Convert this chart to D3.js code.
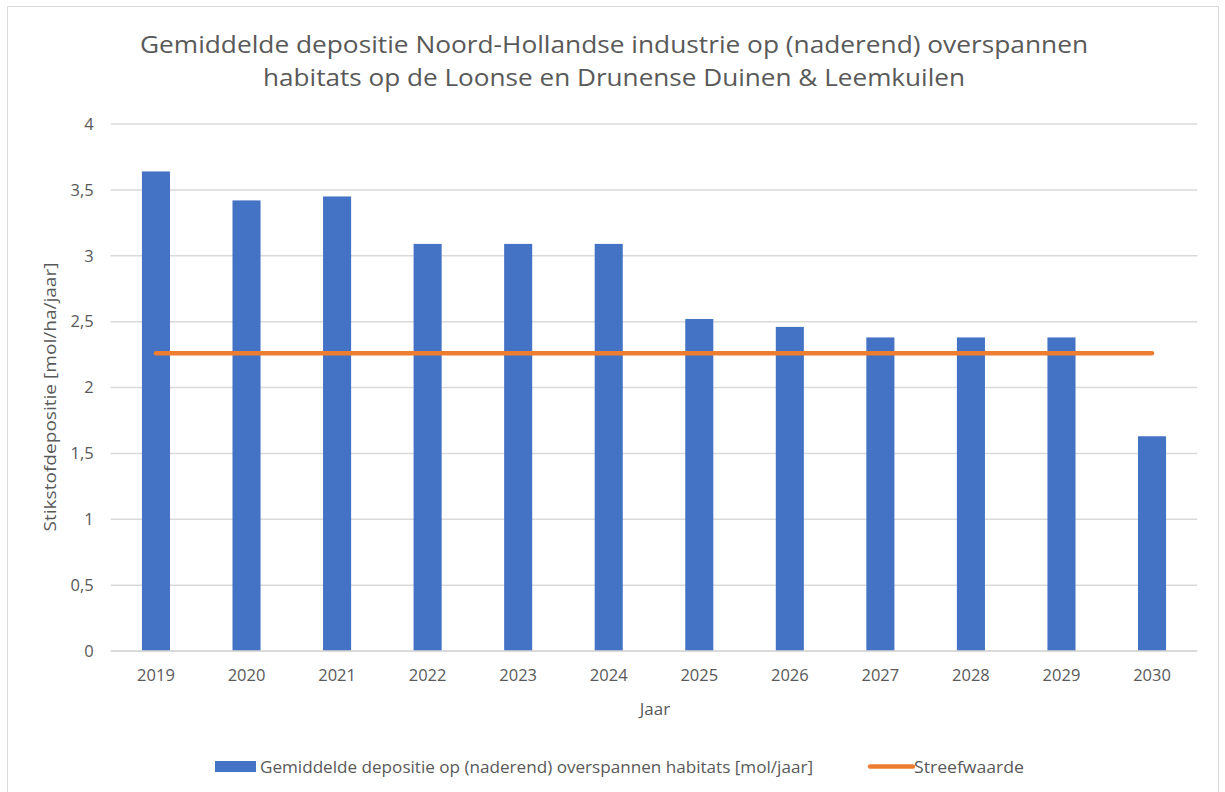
<!DOCTYPE html>
<html>
<head>
<meta charset="utf-8">
<script src="https://cdn.jsdelivr.net/npm/d3@7"></script>
<style>
  body { margin: 0; background: #fff; }
  text { font-family: "Open Sans", sans-serif; fill: #595959; }
</style>
</head>
<body>
<div id="chart"></div>
<script>
// waarden
var years = ["2019", "2020", "2021", "2022", "2023", "2024", "2025", "2026", "2027", "2028", "2029", "2030"];
var depositie = [3.64, 3.42, 3.45, 3.09, 3.09, 3.09, 2.52, 2.46, 2.38, 2.38, 2.38, 1.63];
var streefwaarde = [2.26, 2.26, 2.26, 2.26, 2.26, 2.26, 2.26, 2.26, 2.26, 2.26, 2.26, 2.26];
var yTicks = [0, 0.5, 1, 1.5, 2, 2.5, 3, 3.5, 4];

var width = 1225,
    height = 792,
    plot = { left: 110.7, right: 1197.3, top: 124, bottom: 651 };

var svg = d3.select("#chart").append("svg")
    .attr("width", width)
    .attr("height", height);

// rand om de grafiek
svg.append("rect")
    .attr("x", 7.5).attr("y", 6.5)
    .attr("width", 1211).attr("height", 800)
    .attr("fill", "none")
    .attr("stroke", "#d9d9d9");

var x = d3.scaleBand()
    .domain(years)
    .range([plot.left, plot.right])
    .paddingInner(0.69)
    .paddingOuter(0.345);

var y = d3.scaleLinear()
    .domain([0, 4])
    .range([plot.bottom, plot.top]);

var fmt = function(d) { return String(d).replace(".", ","); };

// gridlijnen
svg.append("g")
  .selectAll("line")
  .data(yTicks)
  .enter().append("line")
    .attr("x1", plot.left).attr("x2", plot.right)
    .attr("y1", function(d) { return y(d); })
    .attr("y2", function(d) { return y(d); })
    .attr("stroke", "#d9d9d9")
    .attr("stroke-width", 1.5);

var yAxis = svg.append("g")
    .attr("transform", "translate(" + plot.left + ",0)")
    .call(d3.axisLeft(y).tickValues(yTicks).tickFormat(fmt).tickSize(0).tickPadding(17));
yAxis.select(".domain").remove();
yAxis.selectAll("text").style("font-size", "16.5px").attr("fill", "#595959");

var xAxis = svg.append("g")
    .attr("transform", "translate(0," + plot.bottom + ")")
    .call(d3.axisBottom(x).tickSize(0).tickPadding(18));
xAxis.select(".domain").remove();
xAxis.selectAll("text").style("font-size", "16.5px").attr("fill", "#595959");

// balken
svg.append("g")
  .selectAll("rect")
  .data(depositie)
  .enter().append("rect")
    .attr("x", function(d, i) { return x(years[i]); })
    .attr("y", function(d) { return y(d); })
    .attr("width", x.bandwidth())
    .attr("height", function(d) { return y(0) - y(d); })
    .attr("fill", "#4472c4");

// as-lijn onder
svg.append("line")
    .attr("x1", plot.left).attr("x2", plot.right)
    .attr("y1", y(0)).attr("y2", y(0))
    .attr("stroke", "#d9d9d9").attr("stroke-width", 1.5);

// streefwaarde
var line = d3.line()
    .x(function(d, i) { return x(years[i]) + x.bandwidth() / 2; })
    .y(function(d) { return y(d); });

svg.append("path")
    .datum(streefwaarde)
    .attr("d", line)
    .attr("fill", "none")
    .attr("stroke", "#ed7d31")
    .attr("stroke-width", 4.5)
    .attr("stroke-linecap", "round");

// titel
svg.append("text")
    .attr("x", 614).attr("y", 53)
    .attr("text-anchor", "middle")
    .attr("textLength", 948).attr("lengthAdjust", "spacingAndGlyphs")
    .style("font-size", "23px")
    .text("Gemiddelde depositie Noord-Hollandse industrie op (naderend) overspannen");
svg.append("text")
    .attr("x", 614).attr("y", 86)
    .attr("text-anchor", "middle")
    .attr("textLength", 702).attr("lengthAdjust", "spacingAndGlyphs")
    .style("font-size", "23px")
    .text("habitats op de Loonse en Drunense Duinen & Leemkuilen");

// astitels
svg.append("text")
    .attr("transform", "translate(56,397) rotate(-90)")
    .attr("text-anchor", "middle")
    .attr("textLength", 269).attr("lengthAdjust", "spacingAndGlyphs")
    .style("font-size", "17px")
    .text("Stikstofdepositie [mol/ha/jaar]");
svg.append("text")
    .attr("x", 655).attr("y", 715)
    .attr("text-anchor", "middle")
    .style("font-size", "17px")
    .text("Jaar");

// legenda
svg.append("rect")
    .attr("x", 215).attr("y", 761)
    .attr("width", 41).attr("height", 11)
    .attr("fill", "#4472c4");
svg.append("text")
    .attr("x", 260).attr("y", 773)
    .attr("textLength", 553).attr("lengthAdjust", "spacingAndGlyphs")
    .style("font-size", "16px")
    .text("Gemiddelde depositie op (naderend) overspannen habitats [mol/jaar]");
svg.append("line")
    .attr("x1", 870).attr("x2", 913)
    .attr("y1", 766.5).attr("y2", 766.5)
    .attr("stroke", "#ed7d31").attr("stroke-width", 4.5)
    .attr("stroke-linecap", "round");
svg.append("text")
    .attr("x", 914).attr("y", 773)
    .attr("textLength", 110).attr("lengthAdjust", "spacingAndGlyphs")
    .style("font-size", "16px")
    .text("Streefwaarde");
</script>
</body>
</html>
